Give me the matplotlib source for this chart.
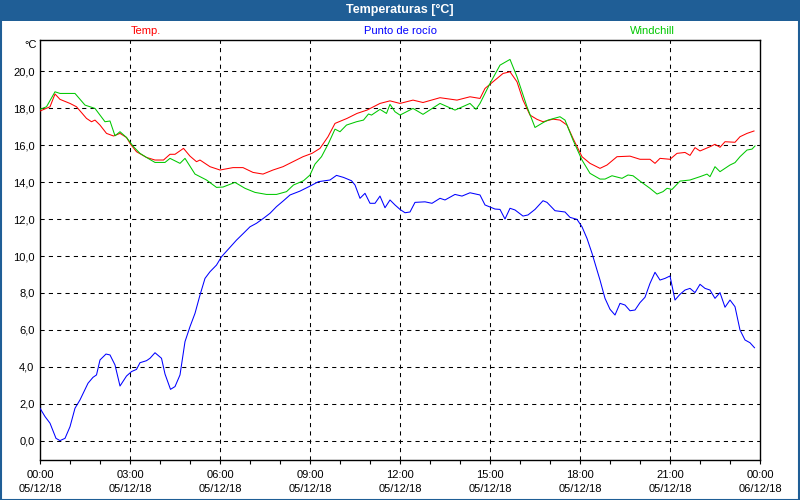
import matplotlib
matplotlib.use("Agg")
import matplotlib.pyplot as plt
from matplotlib.patches import Rectangle
import numpy as np

# ---- data (minutes after 05/12/18 00:00, °C) ----
temp_min = [0, 20, 30, 40, 60, 73, 93, 103, 110, 120, 133, 147, 160, 173, 181, 193, 213, 230, 247, 260,
            270, 287, 300, 313, 320, 340, 360, 386, 406, 426, 446, 466, 486, 506, 526, 544, 560, 576, 590, 614,
            634, 654, 680, 700, 720, 746, 766, 800, 834, 860, 880, 890, 906, 926, 940, 954, 966, 980, 994, 1006,
            1026, 1040, 1054, 1066, 1084, 1100, 1120, 1134, 1154, 1180, 1200, 1220, 1230, 1240, 1260, 1274, 1290, 1300, 1310, 1320,
            1340, 1350, 1360, 1370, 1390, 1400, 1414, 1428]
temp_val = [17.84, 18.07, 18.76, 18.47, 18.25, 18.07, 17.44, 17.26, 17.35, 17.08, 16.63, 16.49, 16.63, 16.41, 16.05, 15.64, 15.33, 15.19, 15.19, 15.5,
            15.5, 15.82, 15.4, 15.1, 15.19, 14.83, 14.65, 14.78, 14.78, 14.52, 14.43, 14.65, 14.83, 15.1, 15.37, 15.55, 15.82, 16.45, 17.17, 17.44,
            17.71, 17.89, 18.25, 18.39, 18.25, 18.43, 18.3, 18.56, 18.43, 18.61, 18.52, 19.06, 19.42, 19.87, 19.96, 19.42, 18.43, 17.62, 17.39, 17.26,
            17.4, 17.35, 17.08, 16.36, 15.37, 15.01, 14.74, 14.92, 15.37, 15.4, 15.23, 15.23, 15.01, 15.28, 15.23, 15.55, 15.6, 15.44, 15.86, 15.68,
            15.91, 16.04, 15.88, 16.18, 16.15, 16.45, 16.63, 16.76]

dew_min = [0, 10, 20, 32, 40, 50, 60, 70, 80, 96, 106, 113, 120, 132, 140, 150, 160, 173, 183, 193,
           200, 213, 220, 230, 243, 250, 261, 270, 280, 290, 300, 310, 320, 330, 340, 353, 363, 380, 393, 407,
           420, 433, 447, 460, 473, 487, 500, 520, 540, 557, 580, 593, 607, 623, 630, 640, 650, 660, 670, 680,
           690, 700, 710, 720, 730, 740, 750, 770, 784, 800, 810, 830, 844, 860, 880, 890, 910, 920, 930, 940,
           950, 966, 976, 990, 1006, 1014, 1030, 1050, 1060, 1074, 1084, 1094, 1104, 1114, 1120, 1130, 1140, 1150, 1160, 1170,
           1180, 1190, 1200, 1210, 1220, 1230, 1240, 1250, 1260, 1270, 1280, 1290, 1300, 1310, 1320, 1330, 1340, 1350, 1360, 1370,
           1380, 1390, 1400, 1410, 1420, 1429]
dew_val = [1.77, 1.32, 0.96, 0.14, 0.02, 0.14, 0.77, 1.77, 2.22, 3.12, 3.44, 3.57, 4.38, 4.7, 4.65, 4.11, 2.97, 3.51, 3.75, 3.87,
           4.23, 4.34, 4.47, 4.77, 4.47, 3.62, 2.79, 2.94, 3.57, 5.37, 6.18, 6.9, 7.89, 8.79, 9.15, 9.51, 9.96, 10.47, 10.86, 11.23,
           11.58, 11.77, 12.04, 12.31, 12.67, 12.99, 13.3, 13.51, 13.78, 14.02, 14.11, 14.36, 14.25, 14.07, 13.84, 13.12, 13.39, 12.85, 12.85, 13.24,
           12.61, 13.03, 12.76, 12.52, 12.34, 12.38, 12.9, 12.93, 12.85, 13.12, 13.03, 13.33, 13.24, 13.42, 13.3, 12.76, 12.54, 12.52, 12.0, 12.58,
           12.49, 12.16, 12.22, 12.52, 12.99, 12.9, 12.45, 12.38, 12.09, 11.98, 11.58, 10.95, 10.15, 9.24, 8.7, 7.71, 7.12, 6.81, 7.44, 7.35,
           7.04, 7.08, 7.48, 7.77, 8.52, 9.12, 8.7, 8.79, 8.92, 7.62, 7.93, 8.16, 8.25, 8.02, 8.47, 8.25, 8.16, 7.71, 8.02, 7.23,
           7.62, 7.26, 6.0, 5.46, 5.31, 5.04]

wind_min = [0, 13, 30, 40, 70, 90, 110, 130, 140, 150, 160, 173, 187, 200, 216, 230, 250, 260, 280, 290,
            310, 333, 353, 366, 390, 410, 430, 453, 473, 493, 507, 527, 540, 550, 563, 577, 590, 600, 613, 633,
            647, 657, 663, 680, 693, 700, 710, 720, 746, 766, 800, 830, 860, 872, 880, 900, 920, 940, 954, 974,
            990, 1006, 1016, 1040, 1050, 1066, 1084, 1100, 1120, 1130, 1144, 1164, 1176, 1186, 1200, 1220, 1234, 1246, 1254, 1264,
            1280, 1300, 1320, 1334, 1340, 1350, 1360, 1380, 1390, 1400, 1414, 1424, 1430]
wind_val = [17.93, 18.07, 18.88, 18.79, 18.79, 18.16, 17.98, 17.26, 17.3, 16.5, 16.72, 16.41, 15.91, 15.55, 15.28, 15.06, 15.06, 15.28, 15.01, 15.28,
            14.43, 14.11, 13.71, 13.73, 13.98, 13.66, 13.44, 13.33, 13.33, 13.48, 13.84, 14.07, 14.38, 14.97, 15.37, 16.09, 16.86, 16.72, 17.08, 17.26,
            17.35, 17.68, 17.62, 17.93, 17.71, 18.2, 17.8, 17.62, 17.98, 17.66, 18.25, 17.89, 18.25, 17.93, 18.25, 19.33, 20.32, 20.63, 19.69, 18.07,
            16.95, 17.21, 17.35, 17.53, 17.35, 16.27, 15.19, 14.47, 14.16, 14.16, 14.34, 14.2, 14.38, 14.34, 14.05, 13.66, 13.35, 13.48, 13.66, 13.6,
            14.05, 14.11, 14.29, 14.43, 14.29, 14.83, 14.56, 14.92, 15.05, 15.37, 15.73, 15.78, 15.95]

series_names = ["Temp.", "Punto de rocío", "Windchill"]
series_colors = ["#ff0000", "#0000ff", "#00c800"]

x_tick_hours = [0, 3, 6, 9, 12, 15, 18, 21, 24]
x_tick_labels = ["00:00\n05/12/18", "03:00\n05/12/18", "06:00\n05/12/18", "09:00\n05/12/18",
                 "12:00\n05/12/18", "15:00\n05/12/18", "18:00\n05/12/18", "21:00\n05/12/18",
                 "00:00\n06/12/18"]
y_ticks = [0, 2, 4, 6, 8, 10, 12, 14, 16, 18, 20]
y_tick_labels = ["0,0", "2,0", "4,0", "6,0", "8,0", "10,0", "12,0", "14,0", "16,0", "18,0", "20,0"]

title = "Temperaturas [°C]"
unit = "°C"

# ---- figure ----
plt.rcParams['font.family'] = ['Liberation Sans', 'DejaVu Sans']
W, H = 800, 500
fig = plt.figure(figsize=(W / 100, H / 100), dpi=100)
fig.patch.set_facecolor("white")
frame_blue = "#1f5e96"

ax = fig.add_axes([40 / W, 40 / H, 720 / W, 420 / H])
ax.set_facecolor("white")

for m, v, c in [(temp_min, temp_val, series_colors[0]),
                (dew_min, dew_val, series_colors[1]),
                (wind_min, wind_val, series_colors[2])]:
    ax.plot(np.array(m) / 60.0, v, color=c, lw=0.75, antialiased=True, zorder=3)

ax.set_xlim(0, 24)
ax.set_ylim(-1.03, 21.68)
ax.set_xticks(x_tick_hours)
ax.set_xticklabels(x_tick_labels, fontsize=8, linespacing=1.55)
ax.set_xticks(np.arange(0, 25, 1), minor=True)
ax.set_yticks(y_ticks)
ax.set_yticklabels(y_tick_labels, fontsize=8)
ax.tick_params(axis='x', which='both', direction='out', length=3, width=0.8, pad=4, colors='black')
ax.tick_params(axis='y', which='both', length=0, pad=4)

for s in ax.spines.values():
    s.set_color("black")
    s.set_linewidth(1.0)

for y in y_ticks:
    ax.axhline(y, color="black", lw=0.75, ls=(0, (4, 4)), zorder=1)
for x in x_tick_hours[1:-1]:
    ax.axvline(x, color="black", lw=0.75, ls=(0, (4, 4)), zorder=1)

# unit label
fig.text(37 / W, 1 - 45 / H, unit, fontsize=8, ha="right", va="center")

# series labels
for name, col, xc in zip(series_names, series_colors, [146, 400, 652]):
    fig.text(xc / W, 1 - 31 / H, name, color=col, fontsize=8, ha="center", va="center")

# title bar and border
fig.patches.append(Rectangle((0, 1 - 20.5 / H), 1, 20.5 / H, transform=fig.transFigure,
                             facecolor=frame_blue, edgecolor="none", zorder=0))
fig.patches.append(Rectangle((0.5 / W, 0.5 / H), 1 - 1.5 / W, 1 - 1.5 / H, transform=fig.transFigure,
                             facecolor="none", edgecolor=frame_blue, lw=1.5, zorder=5))
fig.text(0.5, 1 - 10 / H, title, color="white", fontsize=9, fontweight="bold", ha="center", va="center")

fig.savefig("out.png", dpi=100)
